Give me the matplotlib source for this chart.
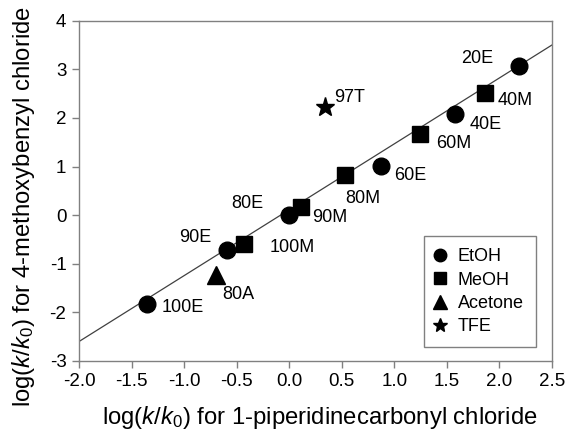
import matplotlib
matplotlib.use("Agg")
import matplotlib.pyplot as plt

plt.rcParams['font.family'] = ['Liberation Sans', 'DejaVu Sans']
plt.rcParams['mathtext.fontset'] = 'custom'
plt.rcParams['mathtext.rm'] = 'Liberation Sans'
plt.rcParams['mathtext.it'] = 'Liberation Sans:italic'

# Data
etoh_labels = ["20E", "40E", "60E", "80E", "90E", "100E"]
etoh_x = [2.19, 1.58, 0.87, 0.00, -0.59, -1.35]
etoh_y = [3.06, 2.09, 1.02, 0.00, -0.71, -1.82]

meoh_labels = ["40M", "60M", "80M", "90M", "100M"]
meoh_x = [1.86, 1.24, 0.53, 0.11, -0.43]
meoh_y = [2.52, 1.67, 0.82, 0.16, -0.60]

acet_labels = ["80A"]
acet_x = [-0.70]
acet_y = [-1.23]

tfe_labels = ["97T"]
tfe_x = [0.34]
tfe_y = [2.23]

fit_x = [-2.0, 2.5]
fit_y = [-2.60, 3.50]

xticks = [-2.0, -1.5, -1.0, -0.5, 0.0, 0.5, 1.0, 1.5, 2.0, 2.5]
yticks = [-3, -2, -1, 0, 1, 2, 3, 4]

# label offsets in pixels (dx, dy)
offsets = {
    "20E": (-42, 8), "40E": (30, -11), "60E": (30, -10), "80E": (-42, 12),
    "90E": (-32, 12), "100E": (35, -4),
    "40M": (30, -8), "60M": (34, -10), "80M": (18, -23), "90M": (29, -10),
    "100M": (48, -3), "80A": (23, -20), "97T": (25, 9),
}

fig = plt.figure(figsize=(5.67, 4.30), dpi=100)
ax = fig.add_axes([0.1393, 0.1605, 0.8342, 0.7914])

ax.plot(fit_x, fit_y, color='#404040', lw=0.9, zorder=1)

ax.plot(etoh_x, etoh_y, 'o', color='black', ms=12, ls='none', label='EtOH', zorder=3)
ax.plot(meoh_x, meoh_y, 's', color='black', ms=11.5, ls='none', label='MeOH', zorder=3)
ax.plot(acet_x, acet_y, '^', color='black', ms=13, ls='none', label='Acetone', zorder=3)
ax.plot(tfe_x, tfe_y, '*', color='black', ms=14, ls='none', label='TFE', zorder=3)

for labs, xs, ys in [(etoh_labels, etoh_x, etoh_y), (meoh_labels, meoh_x, meoh_y),
                     (acet_labels, acet_x, acet_y), (tfe_labels, tfe_x, tfe_y)]:
    for l, x, y in zip(labs, xs, ys):
        ax.annotate(l, (x, y), xytext=offsets[l], textcoords='offset pixels',
                    ha='center', va='center', fontsize=13)

ax.set_xlim(-2.0, 2.5)
ax.set_ylim(-3, 4)
ax.set_xticks(xticks)
ax.set_xticklabels([f"{t:.1f}" for t in xticks])
ax.set_yticks(yticks)
ax.set_yticklabels([str(t) for t in yticks])
ax.tick_params(direction='out', length=5, width=1, color='#808080', labelsize=13.5, pad=4)
for s in ax.spines.values():
    s.set_color('#808080')
    s.set_linewidth(1)

ax.set_xlabel(r'log($k$/$k_0$) for 1-piperidinecarbonyl chloride', fontsize=17.2)
ax.set_ylabel(r'log($k$/$k_0$) for 4-methoxybenzyl chloride', fontsize=17.2)
ax.xaxis.set_label_coords(0.509, -0.126, transform=ax.transAxes)
ax.xaxis.label.set_va('top')
ax.yaxis.set_label_coords(-0.088, 0.455, transform=ax.transAxes)
ax.yaxis.label.set_va('bottom')

leg = ax.legend(loc='lower right', bbox_to_anchor=(0.966, 0.040), borderaxespad=0,
                fontsize=13, frameon=True, fancybox=False, handlelength=0.45,
                handletextpad=0.75, borderpad=0.67, labelspacing=0.35, markerscale=0.75)
leg.get_frame().set_edgecolor('#606060')
leg.get_frame().set_linewidth(1)

fig.savefig('out.png', dpi=100)
